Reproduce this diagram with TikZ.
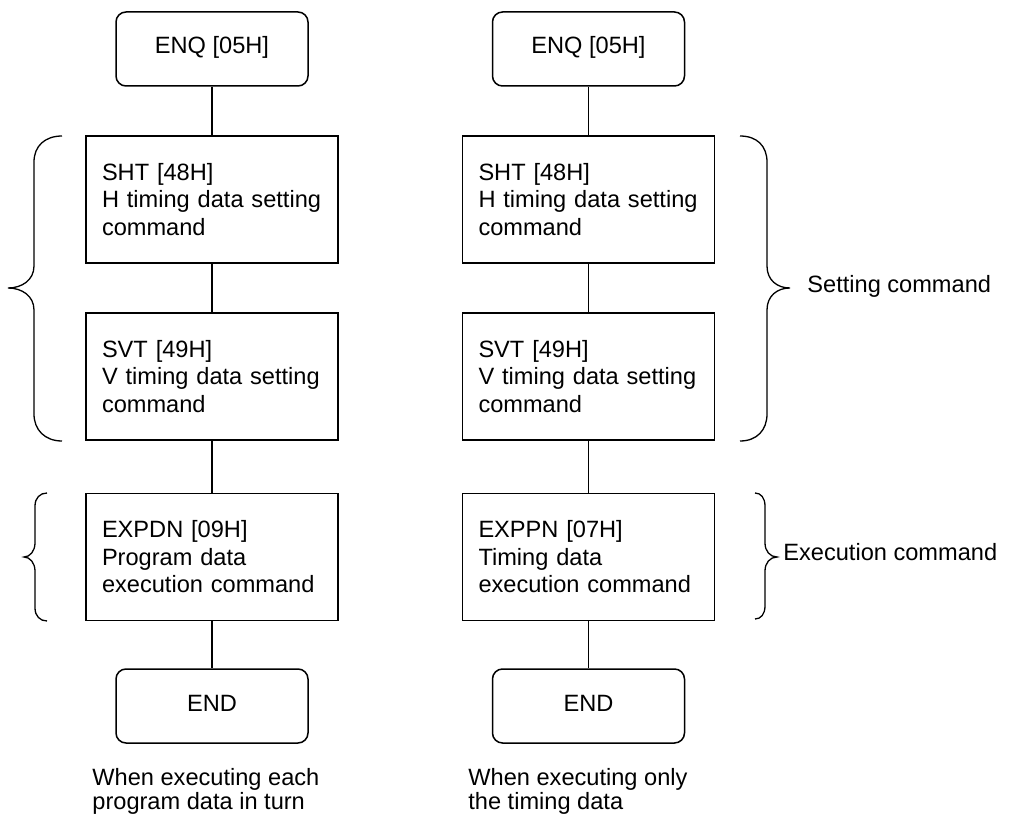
\documentclass[tikz,border=0pt]{standalone}
\usepackage{fontspec}
\setmainfont{Liberation Sans}
\usetikzlibrary{positioning}

\begin{document}
\begin{tikzpicture}[
  x=0.5pt, y=-0.5pt,
  font=\fontsize{11.8}{13.75}\selectfont,
  term/.style={draw,line width=0.75pt,rounded corners=5pt,minimum width=96pt,minimum height=37pt,
    inner sep=0pt,text height=0.75em,text depth=0.25em},
  cmd/.style={draw,line width=0.75pt,minimum height=63.5pt,text width=110pt,
    inner xsep=8pt,inner ysep=0pt,align=left},
  link/.style={line width=0.75pt},
  brace/.style={line width=0.65pt},
  note/.style={anchor=north west,inner sep=0pt,align=left,font=\fontsize{11.8}{12.2}\selectfont},
]
  \useasboundingbox (0,0) rectangle (1013,818);

  % Left flow (each program data in turn)
  \node[term] (enqL) at (212,49) {ENQ [05H]};
  \node[cmd] (shtL) at (212,199.5) {SHT [48H]\\H timing data setting\\command};
  \node[cmd] (svtL) at (212,376.5) {SVT [49H]\\V timing data setting\\command};
  \node[cmd] (expL) at (212,557) {EXPDN [09H]\\Program data\\execution command};
  \node[term] (endL) at (212,706) {END};
  \node[note] (capL) at (92,768) {When executing each\\program data in turn};

  \draw[link] (enqL) -- (shtL);
  \draw[link] (shtL) -- (svtL);
  \draw[link] (svtL) -- (expL);
  \draw[link] (expL) -- (endL);

  % Right flow (timing data only)
  \node[term] (enqR) at (588.5,49) {ENQ [05H]};
  \node[cmd] (shtR) at (588.5,199.5) {SHT [48H]\\H timing data setting\\command};
  \node[cmd] (svtR) at (588.5,376.5) {SVT [49H]\\V timing data setting\\command};
  \node[cmd] (expR) at (588.5,557) {EXPPN [07H]\\Timing data\\execution command};
  \node[term] (endR) at (588.5,706) {END};
  \node[note] (capR) at (468,768) {When executing only\\the timing data};

  \draw[link] (enqR) -- (shtR);
  \draw[link] (shtR) -- (svtR);
  \draw[link] (svtR) -- (expR);
  \draw[link] (expR) -- (endR);

  % Braces
  \draw[brace] (62,136) .. controls (45,136) and (34,146) .. (34,162) -- (34,266)
    .. controls (34,280) and (22,288) .. (8,288) .. controls (22,288) and (34,296) .. (34,310)
    -- (34,414) .. controls (34,430) and (45,441) .. (62,441);
  \draw[brace] (47,493) .. controls (40,493) and (35,498) .. (35,506) -- (35,543)
    .. controls (35,551) and (30,557) .. (24,557) .. controls (30,557) and (35,563) .. (35,571)
    -- (35,608) .. controls (35,616) and (40,621) .. (47,621);
  \draw[brace] (740,136) .. controls (757,136) and (767,146) .. (767,162) -- (767,266)
    .. controls (767,280) and (777,288) .. (790,288) .. controls (777,288) and (767,296) .. (767,310)
    -- (767,414) .. controls (767,430) and (757,441) .. (740,441);
  \draw[brace] (755,493) .. controls (761,493) and (765,498) .. (765,506) -- (765,543)
    .. controls (765,551) and (770,557) .. (777,557) .. controls (770,557) and (765,563) .. (765,571)
    -- (765,606) .. controls (765,614) and (761,619) .. (755,619);

  \node[anchor=base west,inner sep=0pt] (setLbl) at (807,293) {Setting command};
  \node[anchor=base west,inner sep=0pt] (execLbl) at (783,560) {Execution command};
\end{tikzpicture}
\end{document}
